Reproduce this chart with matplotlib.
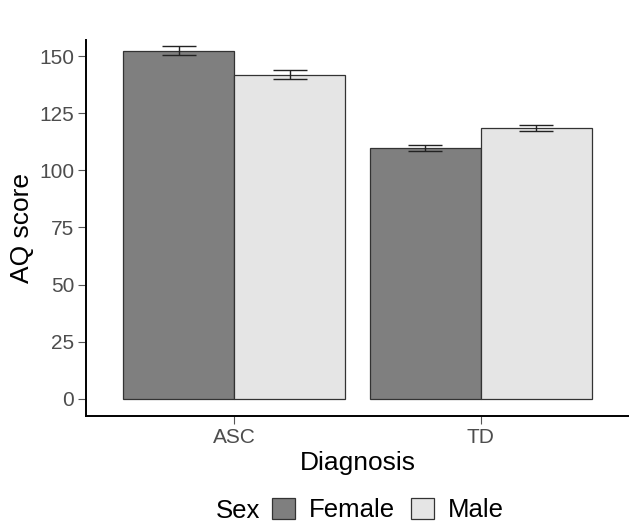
import matplotlib
matplotlib.use("Agg")
import matplotlib.pyplot as plt
import numpy as np
from matplotlib.patches import Patch

plt.rcParams['font.family'] = ['Liberation Sans', 'DejaVu Sans']

diagnosis = ["ASC", "TD"]
sexes = ["Female", "Male"]
female_mean = [152.3, 109.7]
female_se = [2.0, 1.2]
male_mean = [141.8, 118.5]
male_se = [2.0, 1.3]
colors = {"Female": "#7f7f7f", "Male": "#e5e5e5"}

fig = plt.figure(figsize=(6.29, 5.24), dpi=100)
ax = fig.add_axes([86/629, 1-416/524, 1-86/629, (416-40)/524])

x = np.arange(1, len(diagnosis)+1)
w = 0.45
for off, means, ses, s in [(-w/2, female_mean, female_se, "Female"), (w/2, male_mean, male_se, "Male")]:
    ax.bar(x+off, means, width=w, color=colors[s], edgecolor="#333333", linewidth=0.9, zorder=2)
    ax.errorbar(x+off, means, yerr=ses, fmt="none", ecolor="#222222", elinewidth=1.0, capsize=12, capthick=1.0, zorder=3)

ax.set_xlim(0.4, 2.6)
ax.set_ylim(-7.5, 157)
ax.set_yticks([0, 25, 50, 75, 100, 125, 150])
ax.set_xticks(x)
ax.set_xticklabels(diagnosis)
for sp in ["top", "right"]:
    ax.spines[sp].set_visible(False)
for sp in ["left", "bottom"]:
    ax.spines[sp].set_linewidth(1.4)
    ax.spines[sp].set_color("black")
ax.tick_params(axis="both", length=5.5, width=0.8, color="#555555", labelsize=15, labelcolor="#4d4d4d", pad=3)
ax.set_ylabel("AQ score", fontsize=19, labelpad=4)
ax.set_xlabel("Diagnosis", fontsize=19, labelpad=3)

fig.text(216/629, 1 - 510.5/524, "Sex", fontsize=18.5, ha="left", va="center")
handles = [Patch(facecolor=colors[s], edgecolor="#333333", linewidth=0.9) for s in sexes]
fig.legend(handles, sexes, ncol=2, loc="center left", bbox_to_anchor=(272/629, 1 - 510/524),
           frameon=False, fontsize=18.5, handlelength=0.9, handleheight=0.9, handletextpad=0.55,
           columnspacing=0.6, borderaxespad=0, borderpad=0)

fig.savefig("out.png", dpi=100)
